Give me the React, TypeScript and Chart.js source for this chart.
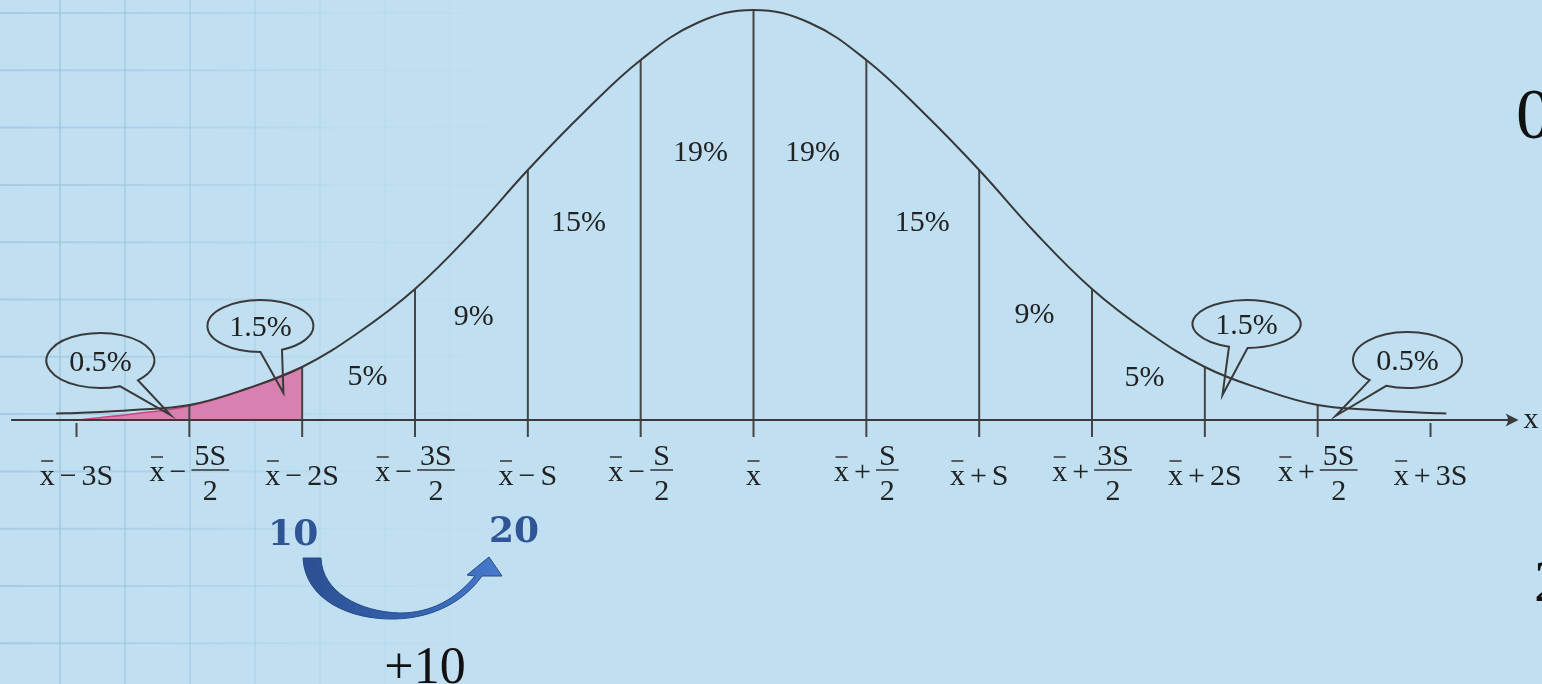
import React, { useEffect, useRef } from 'react';
import { Chart, registerables } from 'chart.js';

Chart.register(...registerables);

// ---- data (x in units of S around the mean, y = curve height) ----
const curveX = [-3.09, -3, -2.75, -2.5, -2.25, -2, -1.75, -1.5, -1.25, -1, -0.75, -0.5, -0.25, 0, 0.25, 0.5, 0.75, 1, 1.25, 1.5, 1.75, 2, 2.25, 2.5, 2.75, 3, 3.07];
const curveY = [0.65, 0.7, 1.0, 1.5, 3.1, 5.3, 8.75, 13.1, 18.7, 25.0, 30.8, 36.0, 39.7, 41.0, 39.7, 36.0, 30.8, 25.0, 18.7, 13.1, 8.75, 5.3, 3.1, 1.5, 1.0, 0.7, 0.65];

const shadeX = [-3, -2.75, -2.5, -2.25, -2];
const shadeY = [0, 0.6, 1.4, 3.05, 5.3];

const dividerX = [-3, -2.5, -2, -1.5, -1, -0.5, 0, 0.5, 1, 1.5, 2, 2.5, 3];
const tickSign = ['−', '−', '−', '−', '−', '−', '', '+', '+', '+', '+', '+', '+'];
const tickTerm = ['3S', '5S', '2S', '3S', 'S', 'S', '', 'S', 'S', '3S', '2S', '5S', '3S'];
const tickDen = ['', '2', '', '2', '', '2', '', '2', '', '2', '', '2', ''];

const pctText = ['5%', '9%', '15%', '19%', '19%', '15%', '9%', '5%'];
const pctX = [-1.71, -1.24, -0.776, -0.235, 0.261, 0.748, 1.245, 1.732];
const pctY = [4.5, 10.5, 19.9, 26.9, 26.9, 19.9, 10.7, 4.4];

const calloutText = ['0.5%', '1.5%', '1.5%', '0.5%'];
const calloutX = [-2.894, -2.185, 2.185, 2.898];
const calloutY = [5.95, 9.4, 9.6, 6.0];
const calloutTipX = [-2.583, -2.083, 2.078, 2.579];
const calloutTipY = [0.5, 2.7, 2.5, 0.4];

const shiftFrom = '10';
const shiftTo = '20';
const shiftStep = '+10';

const SERIF = '"Liberation Serif", "Times New Roman", serif';

const App = () => {
  const ref = useRef<HTMLCanvasElement>(null);

  useEffect(() => {
    const canvas = ref.current!;
    const curvePts = curveX.map((x, i) => ({ x, y: curveY[i] }));
    const shadePts = shadeX.map((x, i) => ({ x, y: shadeY[i] }));
    const divPts: any[] = [];
    dividerX.forEach((p) => {
      const idx = curveX.indexOf(p);
      const top = Math.abs(p) >= 3 ? -0.3 : curveY[idx];
      divPts.push({ x: p, y: -1.7 }, { x: p, y: top }, { x: p, y: null });
    });

    const bgPlugin = {
      id: 'bg',
      beforeDraw(chart: any) {
        const { ctx, width, height } = chart;
        ctx.save();
        ctx.fillStyle = '#c0dff1';
        ctx.fillRect(0, 0, width, height);
        const g = ctx.createLinearGradient(0, 0, 560, 0);
        g.addColorStop(0, 'rgba(160,196,222,0.75)');
        g.addColorStop(0.35, 'rgba(160,196,222,0.45)');
        g.addColorStop(0.6, 'rgba(160,196,222,0.15)');
        g.addColorStop(1, 'rgba(160,196,222,0)');
        ctx.strokeStyle = g;
        ctx.lineWidth = 2;
        for (let x = 60; x < 560; x += 65) {
          ctx.beginPath();
          ctx.moveTo(x, 0);
          ctx.lineTo(x, height);
          ctx.stroke();
        }
        for (let y = 13; y < height; y += 57.3) {
          ctx.beginPath();
          ctx.moveTo(0, y);
          ctx.lineTo(560, y);
          ctx.stroke();
        }
        ctx.restore();
      },
    };

    const annoPlugin = {
      id: 'anno',
      afterDatasetsDraw(chart: any) {
        const { ctx } = chart;
        const X = (v: number) => chart.scales.x.getPixelForValue(v);
        const Y = (v: number) => chart.scales.y.getPixelForValue(v);
        const y0 = Y(0);
        ctx.save();
        // axis with arrow
        ctx.strokeStyle = '#3a3a3a';
        ctx.fillStyle = '#3a3a3a';
        ctx.lineWidth = 2;
        ctx.beginPath();
        ctx.moveTo(X(-3.29), y0);
        ctx.lineTo(X(3.35), y0);
        ctx.stroke();
        const ax = X(3.39);
        ctx.beginPath();
        ctx.moveTo(ax, y0);
        ctx.lineTo(ax - 13, y0 - 6.5);
        ctx.quadraticCurveTo(ax - 8, y0, ax - 13, y0 + 6.5);
        ctx.closePath();
        ctx.fill();
        ctx.fillStyle = '#222';
        ctx.font = `30px ${SERIF}`;
        ctx.textAlign = 'left';
        ctx.textBaseline = 'alphabetic';
        ctx.fillText('x', ax + 5, y0 + 8);

        // tick labels
        ctx.font = `30px ${SERIF}`;
        const gap = 5;
        dividerX.forEach((p, i) => {
          const cx = X(p);
          const sign = tickSign[i];
          const term = tickTerm[i];
          const den = tickDen[i];
          const wx = ctx.measureText('x').width;
          let total = wx;
          let wTerm = 0;
          if (sign) {
            wTerm = den ? Math.max(ctx.measureText(term).width, ctx.measureText(den).width) + 6 : ctx.measureText(term).width;
            total += gap + ctx.measureText(sign).width + gap + wTerm;
          }
          let sx = cx - total / 2;
          const base = den ? y0 + 61 : y0 + 65;
          ctx.textAlign = 'left';
          ctx.fillText('x', sx, base);
          ctx.lineWidth = 1.5;
          ctx.strokeStyle = '#333';
          ctx.beginPath();
          ctx.moveTo(sx + 1.5, base - 24);
          ctx.lineTo(sx + wx - 1.5, base - 24);
          ctx.stroke();
          if (!sign) return;
          sx += wx + gap;
          ctx.fillText(sign, sx, base);
          sx += ctx.measureText(sign).width + gap;
          if (den) {
            const fc = sx + wTerm / 2;
            ctx.textAlign = 'center';
            ctx.fillText(term, fc, y0 + 45);
            ctx.fillText(den, fc, y0 + 80);
            ctx.beginPath();
            ctx.moveTo(sx, y0 + 50);
            ctx.lineTo(sx + wTerm, y0 + 50);
            ctx.stroke();
          } else {
            ctx.fillText(term, sx, base);
          }
        });

        // percent labels
        ctx.font = `30px ${SERIF}`;
        ctx.textAlign = 'center';
        ctx.fillStyle = '#222';
        pctText.forEach((t, i) => {
          ctx.fillText(t, X(pctX[i]), Y(pctY[i]) + 10);
        });

        // callouts
        const rxs = [54, 53, 54, 54.5];
        const rys = [27.5, 26, 24, 28];
        const gaps = [[46, 69], [66, 90], [89, 109], [113, 134]];
        ctx.strokeStyle = '#3a3a3a';
        ctx.lineWidth = 2;
        calloutText.forEach((t, i) => {
          const cx = X(calloutX[i]);
          const cy = Y(calloutY[i]);
          const rx = rxs[i];
          const ry = rys[i];
          const a1 = (gaps[i][1] * Math.PI) / 180;
          const a2 = (gaps[i][0] * Math.PI) / 180 + Math.PI * 2;
          ctx.beginPath();
          ctx.ellipse(cx, cy, rx, ry, 0, a1, a2, false);
          ctx.lineTo(X(calloutTipX[i]), Y(calloutTipY[i]));
          ctx.closePath();
          ctx.stroke();
          ctx.fillStyle = '#222';
          ctx.textAlign = 'center';
          ctx.fillText(t, cx, cy + 10);
        });

        // shift annotation
        ctx.fillStyle = '#2f5597';
        ctx.font = `bold 36px "DejaVu Serif", serif`;
        ctx.textAlign = 'center';
        ctx.fillText(shiftFrom, X(-2.04), Y(-12.5));
        ctx.fillText(shiftTo, X(-1.061), Y(-12.2));

        const g = ctx.createLinearGradient(300, 560, 505, 600);
        g.addColorStop(0, '#2b4f90');
        g.addColorStop(0.6, '#3563b0');
        g.addColorStop(1, '#4a7dd2');
        ctx.fillStyle = g;
        ctx.strokeStyle = '#284b88';
        ctx.lineWidth = 1;
        ctx.beginPath();
        ctx.moveTo(303, 558);
        ctx.bezierCurveTo(305, 600, 350, 620, 395, 619);
        ctx.bezierCurveTo(435, 618, 465, 600, 482, 576);
        ctx.lineTo(502, 576);
        ctx.lineTo(489, 557);
        ctx.lineTo(467, 575);
        ctx.lineTo(475, 576);
        ctx.bezierCurveTo(455, 600, 430, 613, 400, 613);
        ctx.bezierCurveTo(360, 612, 322, 592, 321, 558);
        ctx.closePath();
        ctx.fill();
        ctx.stroke();

        ctx.fillStyle = '#111';
        ctx.font = `52px ${SERIF}`;
        ctx.textAlign = 'center';
        ctx.fillText(shiftStep, 425, 683);

        // cut-off text at right edge
        ctx.textAlign = 'left';
        ctx.font = `72px ${SERIF}`;
        ctx.fillText('0', 1516, 138);
        ctx.font = `60px ${SERIF}`;
        ctx.fillText('2', 1534, 601);
        ctx.restore();
      },
    };

    const chart = new Chart(canvas, {
      type: 'line',
      data: {
        datasets: [
          { data: curvePts, borderColor: '#383838', borderWidth: 2, pointRadius: 0, tension: 0.4, fill: false, order: 1 } as any,
          { data: divPts, borderColor: '#454545', borderWidth: 2, pointRadius: 0, tension: 0, spanGaps: false, fill: false, order: 2 } as any,
          { data: shadePts, borderColor: '#c8457f', borderWidth: 1.5, backgroundColor: '#d880b0', fill: 'origin', pointRadius: 0, tension: 0.4, order: 3 } as any,
        ],
      },
      options: {
        animation: false,
        responsive: false,
        maintainAspectRatio: false,
        layout: { padding: 0 },
        plugins: { legend: { display: false }, tooltip: { enabled: false } },
        scales: {
          x: { type: 'linear', min: -3.339, max: 3.494, display: false },
          y: { type: 'linear', min: -26.4, max: 42.0, display: false },
        },
      },
      plugins: [bgPlugin, annoPlugin],
    });
    return () => chart.destroy();
  }, []);

  return (
    <div style={{ position: 'fixed', left: 0, top: 0, width: 1542, height: 684 }}>
      <canvas ref={ref} width={1542} height={684} style={{ display: 'block' }} />
    </div>
  );
};

export default App;
